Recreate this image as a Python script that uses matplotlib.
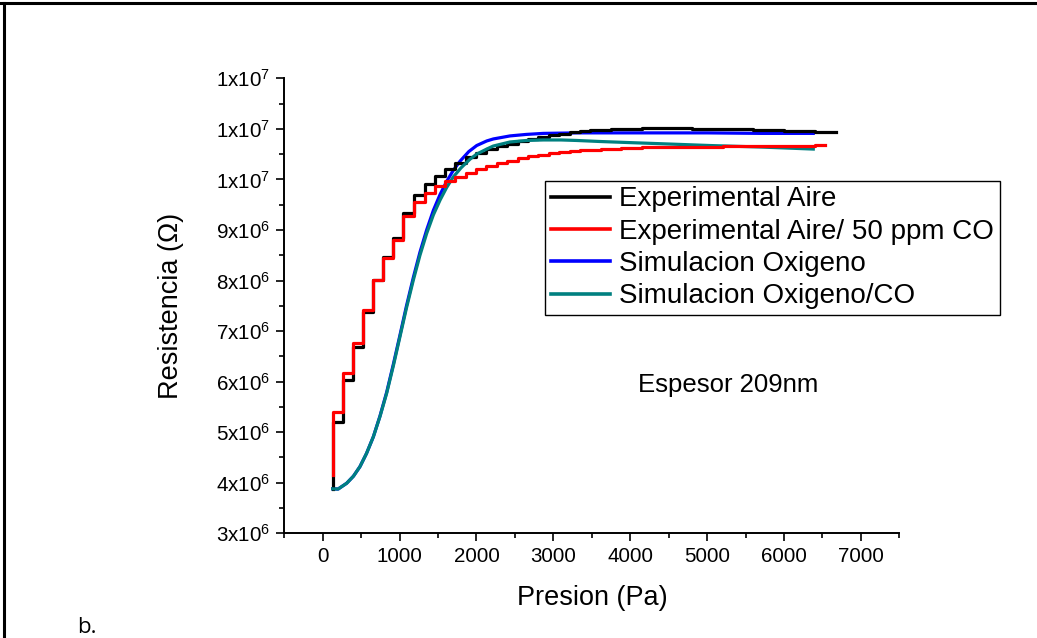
import matplotlib
matplotlib.use("Agg")
import matplotlib.pyplot as plt
from matplotlib.lines import Line2D
from matplotlib.ticker import MultipleLocator, FixedLocator

plt.rcParams["font.family"] = ["Liberation Sans", "DejaVu Sans"]
plt.rcParams["mathtext.fontset"] = "custom"
plt.rcParams["mathtext.rm"] = "Liberation Sans"
plt.rcParams["mathtext.it"] = "Liberation Sans"

# ---------------------------------------------------------------- data (Pa, Ohm/1e6)
aire_x = [130, 130, 265, 400, 530, 660, 790, 920, 1050, 1190, 1325, 1460, 1590,
          1720, 1860, 1995, 2130, 2265, 2400, 2535, 2670, 2805, 2940, 3075, 3210,
          3345, 3480, 3615, 3750, 3885, 4020, 4155, 4400, 4800, 5200, 5600, 6000,
          6400, 6680]
aire_y = [3.88, 5.20, 6.03, 6.68, 7.37, 8.01, 8.47, 8.85, 9.34, 9.69, 9.90, 10.07,
          10.20, 10.32, 10.44, 10.52, 10.60, 10.66, 10.70, 10.75, 10.80, 10.84,
          10.87, 10.90, 10.93, 10.95, 10.97, 10.98, 10.99, 11.00, 11.00, 11.01,
          11.01, 11.00, 10.99, 10.98, 10.96, 10.94, 10.93]

co_x = [130, 130, 265, 400, 530, 660, 790, 920, 1050, 1190, 1325, 1460, 1590,
        1720, 1860, 1995, 2130, 2265, 2400, 2535, 2670, 2805, 2940, 3075, 3210,
        3345, 3480, 3615, 3750, 3885, 4020, 4155, 4400, 4800, 5200, 5600, 6000,
        6400, 6530]
co_y = [4.15, 5.39, 6.18, 6.76, 7.42, 8.01, 8.44, 8.81, 9.28, 9.55, 9.74, 9.86,
        9.97, 10.05, 10.12, 10.20, 10.27, 10.32, 10.37, 10.42, 10.46, 10.49, 10.52,
        10.54, 10.56, 10.58, 10.59, 10.60, 10.61, 10.62, 10.63, 10.64, 10.64,
        10.65, 10.66, 10.66, 10.67, 10.68, 10.68]

sim_o2_x = [130, 200, 312, 400, 485, 570, 659, 745, 832, 920, 1005, 1090, 1179,
            1265, 1352, 1440, 1526, 1612, 1699, 1786, 1900, 2003, 2133, 2219, 2436,
            2650, 2869, 3300, 4000, 5000, 5700, 6380]
sim_o2_y = [3.88, 3.875, 3.99, 4.13, 4.32, 4.58, 4.91, 5.32, 5.79, 6.35, 6.92,
            7.50, 8.06, 8.56, 9.00, 9.39, 9.70, 9.96, 10.18, 10.36, 10.55, 10.67,
            10.76, 10.80, 10.86, 10.89, 10.91, 10.92, 10.92, 10.92, 10.91, 10.91]

sim_co_x = [130, 200, 312, 400, 485, 570, 659, 745, 832, 920, 1005, 1090, 1179,
            1265, 1352, 1440, 1526, 1612, 1699, 1800, 1916, 2003, 2133, 2219, 2436,
            2650, 2869, 3100, 3303, 3600, 3953, 4500, 5037, 5700, 6380]
sim_co_y = [3.88, 3.875, 3.99, 4.13, 4.32, 4.58, 4.91, 5.31, 5.77, 6.32, 6.89,
            7.46, 8.01, 8.50, 8.93, 9.30, 9.59, 9.84, 10.05, 10.23, 10.40, 10.50,
            10.60, 10.66, 10.74, 10.77, 10.78, 10.78, 10.77, 10.75, 10.73, 10.70,
            10.67, 10.64, 10.60]

labels = ["Experimental Aire", "Experimental Aire/ 50 ppm CO",
          "Simulacion Oxigeno", "Simulacion Oxigeno/CO"]
y_ticks = [3, 4, 5, 6, 7, 8, 9, 10, 11, 12]
y_ticklabels = [r"3x10$^{6}$", r"4x10$^{6}$", r"5x10$^{6}$", r"6x10$^{6}$",
                r"7x10$^{6}$", r"8x10$^{6}$", r"9x10$^{6}$", r"1x10$^{7}$",
                r"1x10$^{7}$", r"1x10$^{7}$"]

# ---------------------------------------------------------------- figure
fig = plt.figure(figsize=(10.37, 6.38), dpi=100)
fig.patch.set_facecolor("white")
ax = fig.add_axes([0.2741, 0.1641, 0.5932, 0.7132])

scale = 1e6
LW = 2.3
h_blue, = ax.plot(sim_o2_x, [v * scale for v in sim_o2_y], color="#0000FF", lw=LW, zorder=2)
h_black, = ax.step(aire_x, [v * scale for v in aire_y], where="post", color="#000000", lw=LW, zorder=3)
h_teal, = ax.plot(sim_co_x, [v * scale for v in sim_co_y], color="#008080", lw=LW, zorder=4)
h_red, = ax.step(co_x, [v * scale for v in co_y], where="post", color="#FF0000", lw=LW, zorder=5)

ax.set_xlim(-500, 7500)
ax.set_ylim(3e6, 1.2e7)
ax.xaxis.set_major_locator(FixedLocator(range(0, 7001, 1000)))
ax.xaxis.set_minor_locator(FixedLocator([-500, 500, 1500, 2500, 3500, 4500, 5500, 6500, 7500]))
ax.yaxis.set_major_locator(FixedLocator([t * scale for t in y_ticks]))
ax.set_yticklabels(y_ticklabels)
ax.yaxis.set_minor_locator(MultipleLocator(0.5e6))

for side in ("top", "right"):
    ax.spines[side].set_visible(False)
for side in ("left", "bottom"):
    ax.spines[side].set_linewidth(1.4)

ax.tick_params(which="major", length=6, width=1.2, labelsize=14.8, pad=4)
ax.tick_params(which="minor", length=3.6, width=1.2)

ax.set_xlabel("Presion (Pa)", fontsize=19.5)
ax.set_ylabel("Resistencia (\u03a9)", fontsize=19.5)
ax.xaxis.set_label_coords(0.5, -0.114)
ax.yaxis.set_label_coords(-0.163, 0.5)

ax.text(4100, 5.93e6, "Espesor 209nm", fontsize=18.5, va="center", ha="left")

leg = ax.legend([h_black, h_red, h_blue, h_teal], labels, loc="upper left",
                bbox_to_anchor=(545 / 1037, 1 - 180.7 / 638), bbox_transform=fig.transFigure,
                fontsize=20, frameon=True, fancybox=False, framealpha=1,
                edgecolor="black", borderpad=0.2, labelspacing=0.23,
                handlelength=2.15, handletextpad=0.33, borderaxespad=0)
leg.get_frame().set_linewidth(1.0)
for ln in leg.get_lines():
    ln.set_linewidth(2.6)

# page frame lines (top and left) and panel letter
fig.add_artist(Line2D([0, 1], [1 - 3 / 638, 1 - 3 / 638], transform=fig.transFigure,
                      color="black", lw=2.2))
fig.add_artist(Line2D([4 / 1037, 4 / 1037], [0, 1 - 3 / 638], transform=fig.transFigure,
                      color="black", lw=2.2))
fig.text(77 / 1037, 1 - 633 / 638, "b.", fontsize=16, family=["Open Sans", "DejaVu Sans"],
         va="baseline", ha="left")

fig.savefig("out.png", dpi=100, facecolor="white")
